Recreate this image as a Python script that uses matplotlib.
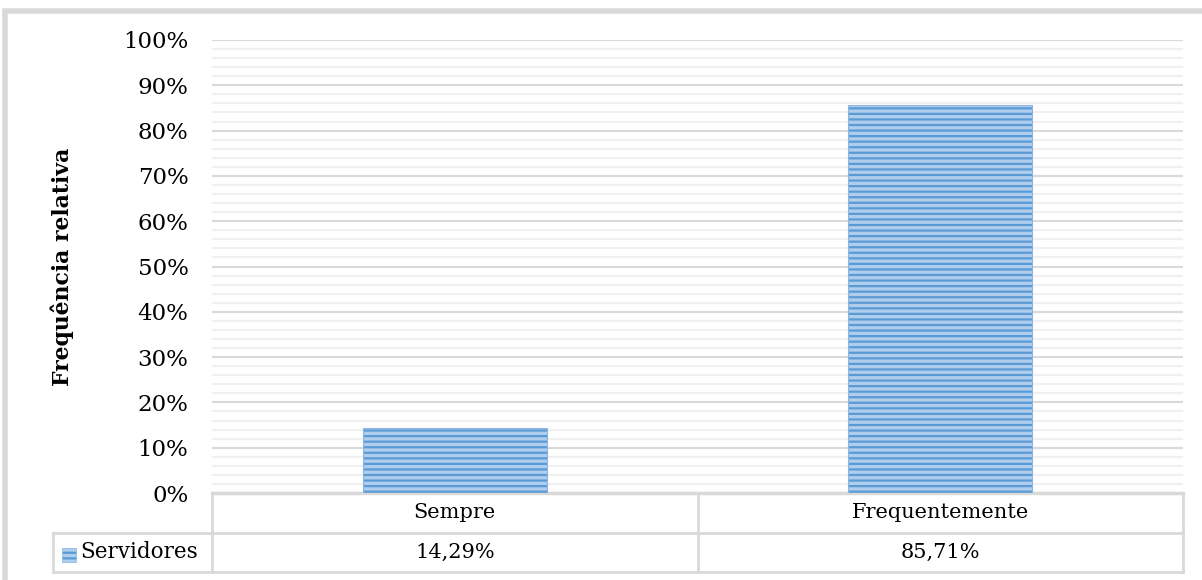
import matplotlib
matplotlib.use("Agg")
import matplotlib.pyplot as plt
import matplotlib.transforms as mtransforms
from matplotlib.patches import Rectangle
from matplotlib.lines import Line2D
from matplotlib.ticker import MultipleLocator, FuncFormatter

categories = ["Sempre", "Frequentemente"]
series_name = "Servidores"
values = [14.29, 85.71]
value_labels = ["14,29%", "85,71%"]
y_label = "Frequência relativa"

FONT = "DejaVu Serif"
plt.rcParams['hatch.linewidth'] = 1.6

W, H = 1202, 580
fig = plt.figure(figsize=(W / 100, H / 100), dpi=100)

# outer border
fig.patches.append(Rectangle((5 / W, -0.1), 1.2, 1 - 11 / H + 0.1, transform=fig.transFigure,
                             fill=False, edgecolor="#D9D9D9", lw=4))

ax_l, ax_r = 212 / W, 1183 / W
ax_b, ax_t = (H - 493) / H, (H - 40) / H
ax = fig.add_axes([ax_l, ax_b, ax_r - ax_l, ax_t - ax_b])

x = list(range(len(categories)))
bars = ax.bar(x, values, width=0.38, color="#AFCDEC", edgecolor="#8DB4E2",
              hatch="---", linewidth=0.8, zorder=3)
for b in bars:
    b._hatch_color = matplotlib.colors.to_rgba("#5B9BD5")

ax.set_xlim(-0.5, len(categories) - 0.5)
ax.set_ylim(0, 100)
ax.yaxis.set_major_locator(MultipleLocator(10))
ax.yaxis.set_minor_locator(MultipleLocator(2))
ax.yaxis.set_major_formatter(FuncFormatter(lambda v, p: f"{int(round(v))}%"))
ax.grid(which="major", axis="y", color="#D9D9D9", lw=1.5, zorder=0)
ax.grid(which="minor", axis="y", color="#F0F0F0", lw=1.5, zorder=0)
ax.tick_params(axis="y", which="both", length=0, pad=17, labelsize=16.5)
ax.tick_params(axis="x", which="both", length=0, labelbottom=False)
for lab in ax.get_yticklabels():
    lab.set_fontfamily(FONT)
for s in ["top", "right", "left"]:
    ax.spines[s].set_visible(False)
ax.spines["bottom"].set_color("#D9D9D9")
ax.spines["bottom"].set_linewidth(2.5)

fig.text(62 / W, 1 - 267 / H, y_label, rotation=90, ha="center", va="center",
         fontsize=15.8, fontweight="bold", fontfamily=FONT)

# data table under the axes
trans = mtransforms.blended_transform_factory(ax.transData, fig.transFigure)
ftrans = fig.transFigure
grey = "#D9D9D9"
y_top = 1 - 493 / H
y_mid = 1 - 533 / H
y_bot = 1 - 572 / H
x_leg_l = 53 / W


def fl(xs, ys, tr):
    fig.add_artist(Line2D(xs, ys, transform=tr, color=grey, lw=2))


fl([ax_l, ax_r], [y_mid, y_mid], ftrans)
fl([x_leg_l, ax_r], [y_bot, y_bot], ftrans)
fl([x_leg_l, ax_l], [y_mid, y_mid], ftrans)
fl([x_leg_l, x_leg_l], [y_mid, y_bot], ftrans)
fl([ax_l, ax_l], [y_top, y_bot], ftrans)
fl([ax_r, ax_r], [y_top, y_bot], ftrans)
for i in range(1, len(categories)):
    fl([i - 0.5, i - 0.5], [y_top, y_bot], trans)

for i, (c, v) in enumerate(zip(categories, value_labels)):
    t1 = fig.text(0, 0, c, ha="center", va="center", fontsize=15, fontfamily=FONT)
    t1.set_transform(trans)
    t1.set_position((i, (y_top + y_mid) / 2))
    t2 = fig.text(0, 0, v, ha="center", va="center", fontsize=15, fontfamily=FONT)
    t2.set_transform(trans)
    t2.set_position((i, (y_mid + y_bot) / 2))

# legend key and series name
key = Rectangle((62 / W, 1 - 562 / H), 14 / W, 14 / H, transform=ftrans,
                facecolor="#AFCDEC", edgecolor="#8DB4E2", hatch="---", lw=0.5)
key._hatch_color = matplotlib.colors.to_rgba("#5B9BD5")
fig.patches.append(key)
fig.text(80 / W, (y_mid + y_bot) / 2, series_name, ha="left", va="center",
         fontsize=15.5, fontfamily=FONT)

fig.savefig("out.png", dpi=100)
